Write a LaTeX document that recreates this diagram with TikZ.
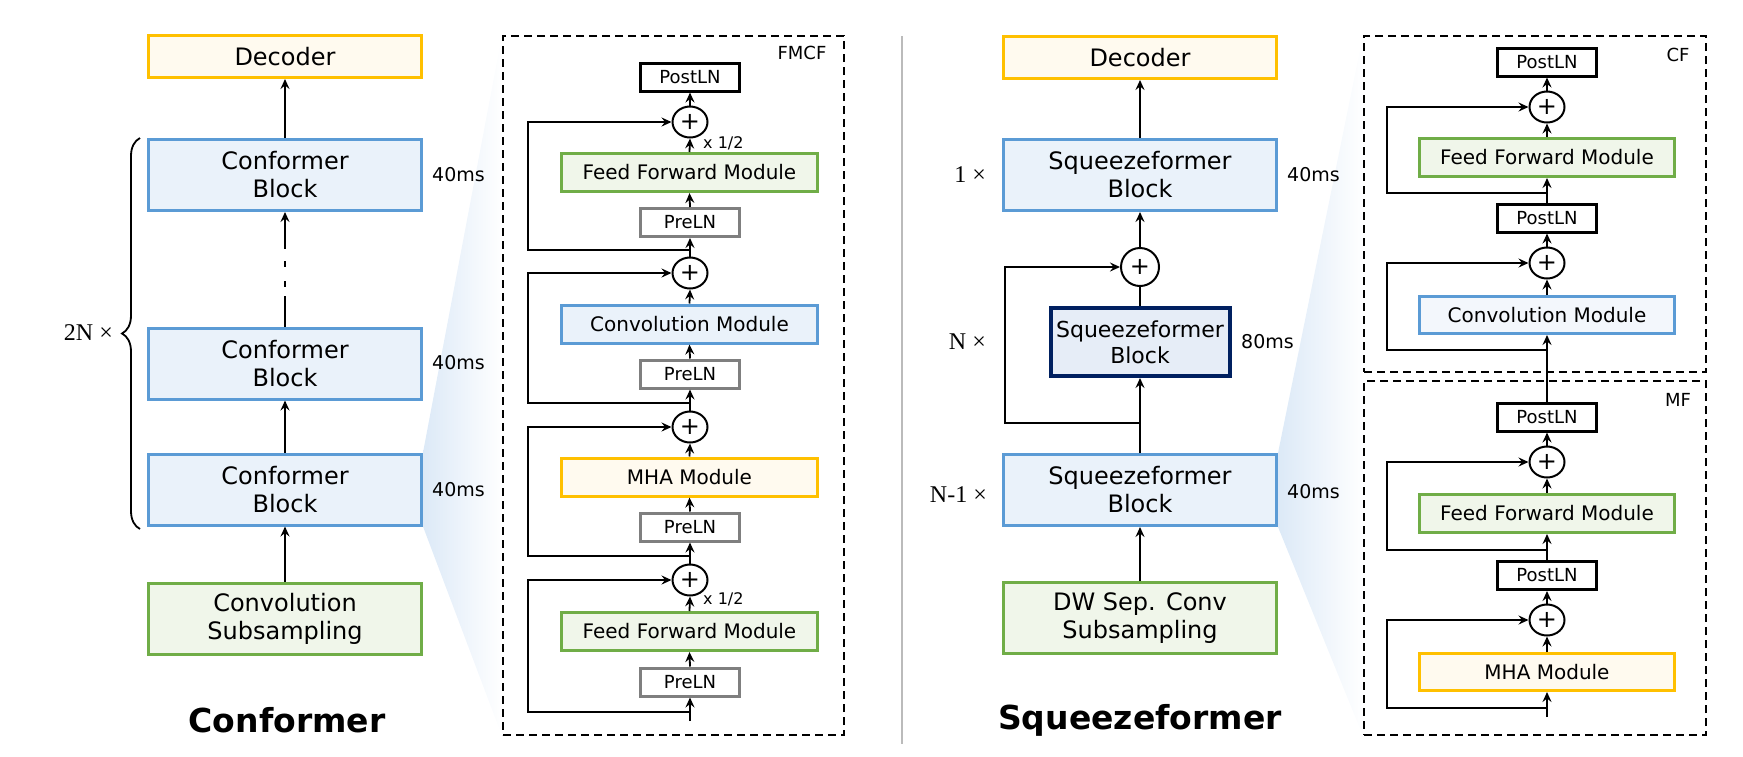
\documentclass[tikz,border=0pt]{standalone}
\usepackage{fontspec}
\setmainfont{DejaVu Sans}
\newfontfamily\serifnum{Liberation Serif}
\usetikzlibrary{arrows.meta,shapes.geometric,decorations.pathreplacing,calc}
\definecolor{bblue}{HTML}{5B9BD5}
\definecolor{fblue}{HTML}{EAF2FA}
\definecolor{fbluelt}{HTML}{F3F7FC}
\definecolor{bgreen}{HTML}{70AD47}
\definecolor{fgreen}{HTML}{F0F6EA}
\definecolor{byellow}{HTML}{FFC000}
\definecolor{fyellow}{HTML}{FFFAEF}
\definecolor{bnavy}{HTML}{002060}
\definecolor{fnavy}{HTML}{E6EDF7}
\definecolor{bgray}{HTML}{7F7F7F}
\definecolor{sepgray}{HTML}{BBBBBB}
\definecolor{fanblue}{HTML}{DCE9F7}
\pgfdeclarelayer{bg}\pgfsetlayers{bg,main}
\tikzset{
  box/.style={draw, line width=3pt, inner sep=0pt, align=center},
  blk/.style={box, minimum width=273pt, minimum height=71pt, font=\fontsize{24}{28}\selectfont},
  modbox/.style={box, minimum width=256pt, minimum height=38pt, font=\fontsize{20}{24}\selectfont},
  lnbox/.style={box, minimum width=99pt, minimum height=28pt, font=\fontsize{18}{22}\selectfont},
  bluec/.style={draw=bblue, fill=fblue},
  greenc/.style={draw=bgreen, fill=fgreen},
  yellowc/.style={draw=byellow, fill=fyellow},
  prec/.style={draw=bgray, fill=white},
  postc/.style={draw=black, fill=white},
  plus/.style={ellipse, draw, line width=2pt, fill=white, minimum width=35pt, minimum height=31pt, inner sep=0pt, font=\fontsize{24}{24}\selectfont},
  arr/.style={line width=1.8pt, -{Stealth[length=10pt,width=9pt,inset=3.5pt]}},
  ln/.style={line width=1.8pt},
  dbox/.style={draw, line width=2pt, dash pattern=on 8pt off 5pt, inner sep=0pt},
  mslbl/.style={font=\fontsize{19}{22}\selectfont, anchor=west, inner sep=0pt},
  tlbl/.style={font=\fontsize{18}{22}\selectfont, inner sep=0pt},
  halflbl/.style={font=\fontsize{16}{18}\selectfont, anchor=west, inner sep=0pt},
  replbl/.style={font=\serifnum\fontsize{24}{28}\selectfont, anchor=east, inner sep=0pt},
  title/.style={font=\fontsize{33}{38}\selectfont\bfseries, inner sep=0pt},
}
\begin{document}
\begin{tikzpicture}[x=1pt,y=-1pt]
\useasboundingbox (0,0) rectangle (1743,756);

% ---------------- Conformer (left) ----------------
\node[blk, yellowc, minimum height=42pt] (dec1) at (285,56.5) {Decoder};
\node[blk, bluec] (cb1) at (285,175) {Conformer\\Block};
\node[blk, bluec] (cb2) at (285,363.5) {Conformer\\Block};
\node[blk, bluec] (cb3) at (285,489.5) {Conformer\\Block};
\node[blk, greenc] (cs) at (285,618.5) {Convolution\\Subsampling};
\node[mslbl] (ms1) at (432,175) {40ms};
\node[mslbl] (ms2) at (432,363) {40ms};
\node[mslbl] (ms3) at (432,490) {40ms};
\draw[arr] (cs.north) -- (cb3.south);
\draw[arr] (cb3.north) -- (cb2.south);
\draw[arr, dash pattern=on 31pt off 9pt on 6pt off 14pt on 6pt off 12pt on 80pt] (cb2.north) -- (cb1.south);
\draw[arr] (cb1.north) -- (dec1.south);
\coordinate (brB) at (140,529);
\coordinate (brT) at (140,138);
\draw[line width=1.8pt, decorate, decoration={brace, amplitude=18pt}] (brB) -- (brT);
\node[replbl] (rep2n) at (113,333) {2N ×};
\node[title] (t1) at (287,720) {Conformer};

% FMCF box
\node[dbox, minimum width=341pt, minimum height=699pt] (fmcf) at (673.5,385.5) {};
\node[tlbl] (fmcfl) at (802,53) {FMCF};
\node[lnbox, postc] (post1) at (690,77) {PostLN};
\node[plus] (p1) at (690,122) {+};
\node[modbox, greenc] (ff1) at (689.5,172.5) {Feed Forward Module};
\node[lnbox, prec] (pre1) at (690,222.5) {PreLN};
\coordinate (j1) at (690,250);
\node[plus] (p2) at (690,273) {+};
\node[modbox, bluec] (conv1) at (689.5,324) {Convolution Module};
\node[lnbox, prec] (pre2) at (690,374) {PreLN};
\coordinate (j2) at (690,403);
\node[plus] (p3) at (690,427) {+};
\node[modbox, yellowc] (mha1) at (689.5,477) {MHA Module};
\node[lnbox, prec] (pre3) at (690,527) {PreLN};
\coordinate (j3) at (690,556);
\node[plus] (p4) at (690,580) {+};
\node[modbox, greenc] (ff2) at (689.5,631.5) {Feed Forward Module};
\node[lnbox, prec] (pre4) at (690,682) {PreLN};
\coordinate (j4) at (690,712);
\coordinate (in1) at (690,721);
\coordinate (skA) at (528,0);
\draw[arr] (in1) -- (pre4.south);
\draw[arr] (pre4.north) -- (ff2.south);
\draw[arr] (ff2.north) -- (p4.south);
\draw[arr] (p4.north) -- (pre3.south);
\draw[arr] (pre3.north) -- (mha1.south);
\draw[arr] (mha1.north) -- (p3.south);
\draw[arr] (p3.north) -- (pre2.south);
\draw[arr] (pre2.north) -- (conv1.south);
\draw[arr] (conv1.north) -- (p2.south);
\draw[arr] (p2.north) -- (pre1.south);
\draw[arr] (pre1.north) -- (ff1.south);
\draw[arr] (ff1.north) -- (p1.south);
\draw[arr] (p1.north) -- (post1.south);
\draw[arr] (j1) -- (j1 -| skA) |- (p1.west);
\draw[arr] (j2) -- (j2 -| skA) |- (p2.west);
\draw[arr] (j3) -- (j3 -| skA) |- (p3.west);
\draw[arr] (j4) -- (j4 -| skA) |- (p4.west);
\node[halflbl] (h1) at (703,143) {x 1/2};
\node[halflbl] (h2) at (703,599) {x 1/2};

% separator
\coordinate (sepT) at (902,36);
\coordinate (sepB) at (902,744);
\draw[sepgray, line width=2pt] (sepT) -- (sepB);

% ---------------- Squeezeformer (right) ----------------
\node[blk, yellowc, minimum height=42pt] (dec2) at (1140,57.5) {Decoder};
\node[blk, bluec] (sb1) at (1140,175) {Squeezeformer\\Block};
\node[plus, minimum width=38pt, minimum height=38pt] (p5) at (1140,267) {+};
\node[blk, draw=bnavy, fill=fnavy, line width=4pt, minimum width=179pt, minimum height=68pt, font=\fontsize{22}{26}\selectfont] (sb80) at (1140,342) {Squeezeformer\\Block};
\coordinate (j5) at (1140,423);
\node[blk, bluec] (sb2) at (1140,490) {Squeezeformer\\Block};
\node[blk, greenc] (dw) at (1140,618) {DW Sep. Conv\\Subsampling};
\coordinate (skB) at (1005,0);
\draw[arr] (dw.north) -- (sb2.south);
\draw[arr] (sb2.north) -- (sb80.south);
\draw[ln] (sb80.north) -- (p5.south);
\draw[arr] (p5.north) -- (sb1.south);
\draw[arr] (sb1.north) -- (dec2.south);
\draw[arr] (j5) -- (j5 -| skB) |- (p5.west);
\node[replbl] (rep1) at (986,175) {1 ×};
\node[replbl] (repn) at (986,342) {N ×};
\node[replbl] (repn1) at (987,495) {N-1 ×};
\node[mslbl] (ms4) at (1287,175) {40ms};
\node[mslbl] (ms5) at (1241,342) {80ms};
\node[mslbl] (ms6) at (1287,492) {40ms};
\node[title] (t2) at (1140,720) {Squeezeformer};

% CF box
\node[dbox, minimum width=342pt, minimum height=336pt] (cf) at (1535,204) {};
\node[tlbl] (cfl) at (1678,55) {CF};
\node[lnbox, postc] (post2) at (1547,62) {PostLN};
\node[plus] (p6) at (1547,107) {+};
\node[modbox, greenc, minimum width=255pt] (ff3) at (1547,157.5) {Feed Forward Module};
\coordinate (j6) at (1547,193);
\node[lnbox, postc] (post3) at (1547,218) {PostLN};
\node[plus] (p7) at (1547,263) {+};
\node[modbox, draw=bblue, fill=fbluelt, minimum width=255pt, minimum height=37pt] (conv2) at (1547,315) {Convolution Module};
\coordinate (j7) at (1547,350);
\coordinate (skC) at (1387,0);

% MF box
\node[dbox, minimum width=342pt, minimum height=354pt] (mf) at (1535,558) {};
\node[tlbl] (mfl) at (1678,400) {MF};
\node[lnbox, postc] (post4) at (1547,417) {PostLN};
\node[plus] (p8) at (1547,462) {+};
\node[modbox, greenc, minimum width=255pt] (ff4) at (1547,513.5) {Feed Forward Module};
\coordinate (j8) at (1547,550);
\node[lnbox, postc] (post5) at (1547,575.5) {PostLN};
\node[plus] (p9) at (1547,620) {+};
\node[modbox, yellowc, minimum width=255pt, minimum height=37pt] (mha2) at (1547,672) {MHA Module};
\coordinate (j9) at (1547,708);
\coordinate (in2) at (1547,717);

\draw[arr] (in2) -- (mha2.south);
\draw[arr] (mha2.north) -- (p9.south);
\draw[arr] (p9.north) -- (post5.south);
\draw[arr] (post5.north) -- (ff4.south);
\draw[arr] (ff4.north) -- (p8.south);
\draw[arr] (p8.north) -- (post4.south);
\draw[arr] (post4.north) -- (conv2.south);
\draw[arr] (conv2.north) -- (p7.south);
\draw[arr] (p7.north) -- (post3.south);
\draw[arr] (post3.north) -- (ff3.south);
\draw[arr] (ff3.north) -- (p6.south);
\draw[arr] (p6.north) -- (post2.south);
\draw[arr] (j9) -- (j9 -| skC) |- (p9.west);
\draw[arr] (j8) -- (j8 -| skC) |- (p8.west);
\draw[arr] (j7) -- (j7 -| skC) |- (p7.west);
\draw[arr] (j6) -- (j6 -| skC) |- (p6.west);

% fans
\begin{pgfonlayer}{bg}
\shade[left color=fanblue, right color=white] (cb3.north east) -- (fmcf.north west) -- (fmcf.south west) -- (cb3.south east) -- cycle;
\shade[left color=fanblue, right color=white] (sb2.north east) -- (cf.north west) -- (mf.south west) -- (sb2.south east) -- cycle;
\end{pgfonlayer}
\end{tikzpicture}
\end{document}
